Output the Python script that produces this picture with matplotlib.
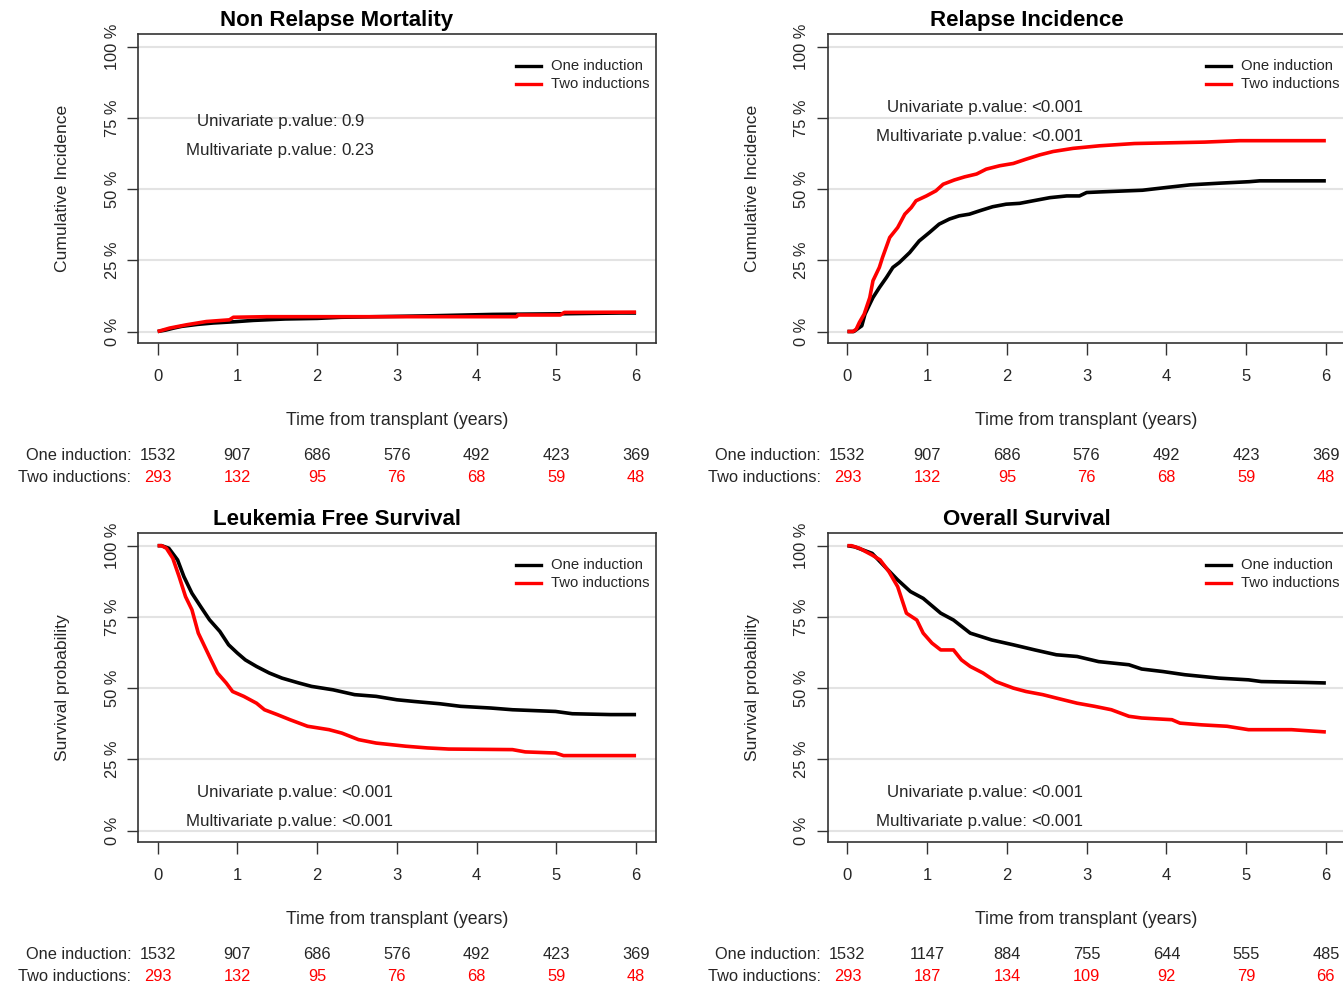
import numpy as np
import matplotlib.pyplot as plt
from matplotlib.transforms import blended_transform_factory

plt.rcParams['font.family'] = ['Liberation Sans', 'DejaVu Sans']

# curves (years, %)
nrm_t_one = [0, 0.1, 0.2, 0.3, 0.5, 0.7, 0.95, 1.2, 1.6, 2.0, 2.3, 3.4, 4.2, 5.0, 5.8, 6.0]
nrm_y_one = [0, 0.5, 1.2, 1.8, 2.5, 3.0, 3.4, 3.9, 4.4, 4.6, 5.0, 5.5, 6.0, 6.2, 6.5, 6.5]
nrm_t_two = [0, 0.15, 0.36, 0.61, 0.9, 0.95, 1.37, 1.78, 4.5, 4.52, 5.05, 5.1, 6.0]
nrm_y_two = [0, 1.2, 2.35, 3.5, 4.1, 5.0, 5.2, 5.2, 5.2, 5.8, 5.8, 6.7, 6.8]

ri_t_one = [0, 0.08, 0.12, 0.18, 0.22, 0.28, 0.32, 0.4, 0.49, 0.57, 0.65, 0.78, 0.9, 1.03, 1.15,
            1.28, 1.4, 1.53, 1.66, 1.82, 1.99, 2.16, 2.33, 2.54, 2.75, 2.91, 3.0, 3.16, 3.7,
            4.01, 4.3, 4.68, 5.04, 5.17, 6.0]
ri_y_one = [0, 0, 0.8, 2.0, 6.1, 9.6, 11.9, 15.4, 19.0, 22.5, 24.2, 27.7, 31.8, 34.8, 37.7,
            39.5, 40.6, 41.2, 42.4, 43.8, 44.7, 45.0, 45.9, 47.0, 47.6, 47.6, 48.8, 49.0, 49.6,
            50.6, 51.5, 52.1, 52.6, 52.9, 52.9]
ri_t_two = [0, 0.07, 0.11, 0.15, 0.21, 0.28, 0.32, 0.4, 0.44, 0.53, 0.63, 0.72, 0.8, 0.86, 0.99,
            1.11, 1.2, 1.34, 1.47, 1.62, 1.74, 1.91, 2.08, 2.24, 2.41, 2.58, 2.83, 3.16, 3.6,
            4.48, 4.92, 6.0]
ri_y_two = [0, 0, 0.8, 3.2, 6.1, 11.9, 17.8, 22.5, 26.0, 33.0, 36.5, 41.2, 43.5, 45.9, 47.6,
            49.4, 51.7, 53.2, 54.3, 55.3, 57.0, 58.2, 59.0, 60.5, 62.0, 63.2, 64.3, 65.2, 66.0,
            66.5, 67.0, 67.0]

lfs_t_one = [0, 0.05, 0.14, 0.25, 0.33, 0.43, 0.54, 0.65, 0.78, 0.89, 1.0, 1.1, 1.24, 1.4, 1.56,
             1.77, 1.93, 2.2, 2.47, 2.74, 3.0, 3.22, 3.54, 3.8, 4.18, 4.45, 4.99, 5.2, 5.68, 6.0]
lfs_y_one = [100, 100, 99.1, 95.0, 89.1, 83.3, 78.6, 74.0, 69.9, 65.2, 62.3, 59.9, 57.6, 55.3, 53.5,
             51.8, 50.6, 49.4, 47.7, 47.1, 45.9, 45.3, 44.5, 43.6, 43.0, 42.4, 41.8, 41.0, 40.7, 40.7]
lfs_t_two = [0, 0.05, 0.11, 0.19, 0.27, 0.35, 0.43, 0.51, 0.59, 0.67, 0.75, 0.86, 0.94, 1.08, 1.24,
             1.34, 1.5, 1.66, 1.88, 2.15, 2.31, 2.52, 2.74, 3.11, 3.38, 3.65, 4.45, 4.61, 4.99,
             5.09, 6.0]
lfs_y_two = [100, 100, 99.1, 95.6, 89.1, 82.1, 77.5, 69.3, 64.6, 59.9, 55.3, 51.8, 48.8, 47.1, 44.7,
             42.4, 40.7, 38.9, 36.6, 35.4, 34.2, 31.9, 30.7, 29.6, 29.0, 28.6, 28.4, 27.6, 27.2,
             26.3, 26.3]

os_t_one = [0, 0.09, 0.31, 0.47, 0.63, 0.79, 0.95, 1.17, 1.33, 1.54, 1.81, 2.08, 2.35, 2.62, 2.88,
            3.15, 3.53, 3.69, 3.96, 4.23, 4.66, 5.03, 5.19, 5.73, 6.0]
os_y_one = [100, 99.6, 97.3, 92.6, 88.0, 83.9, 81.5, 76.3, 73.9, 69.3, 66.9, 65.2, 63.4, 61.7, 61.1,
            59.3, 58.2, 56.7, 55.8, 54.7, 53.5, 52.9, 52.3, 52.0, 51.8]
os_t_two = [0, 0.05, 0.15, 0.31, 0.41, 0.52, 0.63, 0.74, 0.87, 0.95, 1.06, 1.17, 1.33, 1.43, 1.54,
            1.7, 1.86, 2.08, 2.24, 2.45, 2.62, 2.88, 3.1, 3.31, 3.53, 3.69, 4.07, 4.17, 4.44,
            4.76, 5.03, 5.57, 6.0]
os_y_two = [100, 100, 99.1, 96.7, 95.0, 90.9, 85.6, 76.3, 73.9, 69.3, 65.8, 63.4, 63.4, 59.9, 57.6,
            55.3, 52.3, 50.0, 48.8, 47.7, 46.5, 44.7, 43.6, 42.4, 40.1, 39.5, 38.9, 37.7, 37.1,
            36.6, 35.4, 35.4, 34.6]

risk_times = [0, 1, 2, 3, 4, 5, 6]
risk_one = [1532, 907, 686, 576, 492, 423, 369]
risk_two = [293, 132, 95, 76, 68, 59, 48]
risk_one_os = [1532, 1147, 884, 755, 644, 555, 485]
risk_two_os = [293, 187, 134, 109, 92, 79, 66]

y_ticks = [0, 25, 50, 75, 100]
y_ticklabels = ['0 %', '25 %', '50 %', '75 %', '100 %']
group_names = ['One induction', 'Two inductions']

W, H = 1343, 984
fig = plt.figure(figsize=(W / 100, H / 100), dpi=100)

dark = '#262626'


def panel(rect, title, ylabel, t1, y1, t2, y2, uni, multi, py, r1, r2):
    ax = fig.add_axes([rect[0] / W, 1 - rect[1] / H, 518.3 / W, 309.6 / H])
    ax.set_xlim(-0.25, 6.25)
    ax.set_ylim(-4.14, 104.56)
    for v in y_ticks:
        ax.axhline(v, color='#e3e3e3', lw=1.5, zorder=0)
    ax.plot(t1, y1, color='black', lw=2.6, solid_capstyle='butt')
    ax.plot(t2, y2, color='red', lw=2.6, solid_capstyle='butt')
    for s in ax.spines.values():
        s.set_color('#333333')
        s.set_linewidth(1.2)
    ax.set_xticks(risk_times)
    ax.set_xticklabels([str(t) for t in risk_times], fontsize=12, color=dark)
    ax.set_yticks(y_ticks)
    ax.set_yticklabels(y_ticklabels, fontsize=11.8, color=dark, rotation=90, va='center')
    ax.tick_params(axis='x', length=8.5, width=1.0, color='#333333', pad=10)
    ax.tick_params(axis='y', length=8, width=1.0, color='#333333', pad=5)

    bt = blended_transform_factory(ax.transData, ax.transAxes)
    ax.text(2.245, 1.044, title, transform=bt, ha='center', va='center',
            fontsize=16, fontweight='bold', color='black')
    ax.text(-0.145, 0.5, ylabel, transform=ax.transAxes, rotation=90,
            ha='center', va='center', fontsize=12.6, color=dark)
    ax.text(0.5, -0.248, 'Time from transplant (years)', transform=ax.transAxes,
            ha='center', va='center', fontsize=12.8, color=dark)

    # legend
    ax.plot([4.5, 4.81], [93.2, 93.2], color='black', lw=2.4)
    ax.plot([4.5, 4.81], [86.8, 86.8], color='red', lw=2.4)
    ax.text(4.93, 93.2, group_names[0], ha='left', va='center', fontsize=10.7, color=dark)
    ax.text(4.93, 86.8, group_names[1], ha='left', va='center', fontsize=10.7, color=dark)

    # p-values
    ax.text(2.255, py[0], 'Univariate p.value:', ha='right', va='center', fontsize=12.2, color=dark)
    ax.text(2.30, py[0], uni, ha='left', va='center', fontsize=12.2, color=dark)
    ax.text(2.255, py[1], 'Multivariate p.value:', ha='right', va='center', fontsize=12.2, color=dark)
    ax.text(2.30, py[1], multi, ha='left', va='center', fontsize=12.2, color=dark)

    # numbers at risk
    ax.text(-0.33, -0.361, group_names[0] + ':', transform=bt, ha='right', va='center',
            fontsize=11.8, color=dark)
    ax.text(-0.33, -0.432, group_names[1] + ':', transform=bt, ha='right', va='center',
            fontsize=11.8, color=dark)
    for t, a, b in zip(risk_times, r1, r2):
        ax.text(t, -0.361, str(a), transform=bt, ha='center', va='center', fontsize=11.8, color=dark)
        ax.text(t, -0.432, str(b), transform=bt, ha='center', va='center', fontsize=11.8, color='red')
    return ax


panel((137.7, 343.3), 'Non Relapse Mortality', 'Cumulative Incidence',
      nrm_t_one, nrm_y_one, nrm_t_two, nrm_y_two, '0.9', '0.23', (73.6, 63.4), risk_one, risk_two)
panel((827.5, 343.3), 'Relapse Incidence', 'Cumulative Incidence',
      ri_t_one, ri_y_one, ri_t_two, ri_y_two, '<0.001', '<0.001', (78.8, 68.6), risk_one, risk_two)
panel((137.7, 842.3), 'Leukemia Free Survival', 'Survival probability',
      lfs_t_one, lfs_y_one, lfs_t_two, lfs_y_two, '<0.001', '<0.001', (13.2, 3.3), risk_one, risk_two)
panel((827.5, 842.3), 'Overall Survival', 'Survival probability',
      os_t_one, os_y_one, os_t_two, os_y_two, '<0.001', '<0.001', (13.2, 3.3), risk_one_os, risk_two_os)

fig.savefig('out.png', dpi=100)
